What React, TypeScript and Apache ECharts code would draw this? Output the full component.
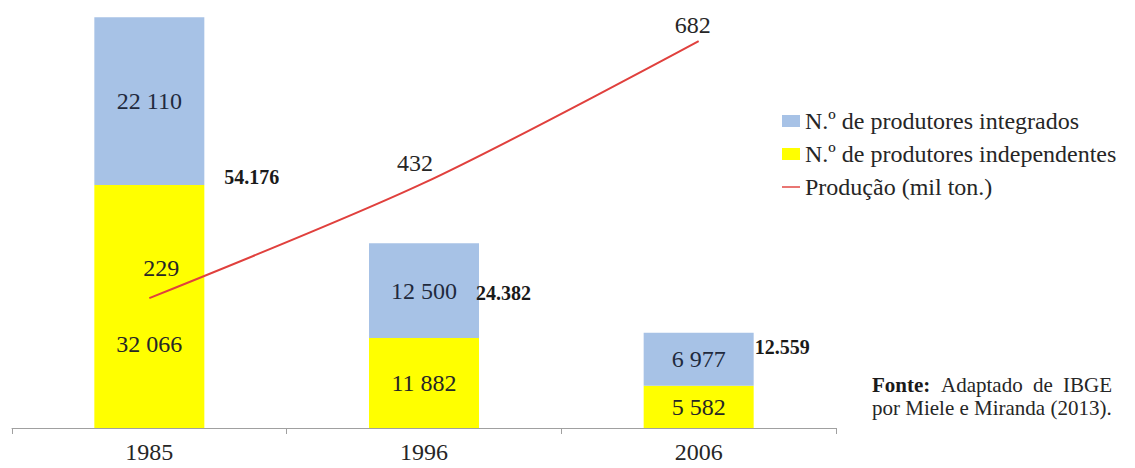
import React, { useEffect, useRef } from "react";
import * as echarts from "echarts";

const years = ["1985", "1996", "2006"];
const integrados = [22110, 12500, 6977];
const independentes = [32066, 11882, 5582];
const totals = [54176, 24382, 12559];
const producao = [229, 432, 682];

const seriesNames = [
  "N.º de produtores integrados",
  "N.º de produtores independentes",
  "Produção (mil ton.)",
];

const fmtSpace = (v: number) => String(v).replace(/\B(?=(\d{3})+(?!\d))/g, " ");
const fmtDot = (v: number) => String(v).replace(/\B(?=(\d{3})+(?!\d))/g, ".");

// label placement tweaks (style only, pixels)
const indepOffsets = [[0, 38], [0, 0], [0, 0]];
const integOffsets = [[0, 0], [0, 0], [0, 0]];
const totalOffsets = [[15, -46], [-8, -43], [-4, -33]];
const lineOffsets = [[12, -30], [-9, -20], [-6, -16]];

const SERIF = "Liberation Serif";
const BLUE = "#A7C2E6";
const YELLOW = "#FFFF00";
const RED = "#E0403D";
const TXT = "#262626";

// segment label records built from the data arrays: [category, mid value, shown value, kind]
const segLabels: number[][] = [];
years.forEach((_, i) => {
  segLabels.push([i, independentes[i] / 2, independentes[i], 0]);
  segLabels.push([i, independentes[i] + integrados[i] / 2, integrados[i], 1]);
});
const lineLabels = producao.map((v, i) => [i, v]);

export default function App() {
  const ref = useRef<HTMLDivElement>(null);
  useEffect(() => {
    if (!ref.current) return;
    const chart = echarts.init(ref.current, undefined, { renderer: "svg" });
    const option: any = {
      animation: false,
      backgroundColor: "#ffffff",
      textStyle: { fontFamily: SERIF },
      grid: { left: 12, right: 299, top: 11, bottom: 40, containLabel: false },
      legend: {
        orient: "vertical",
        left: 777,
        top: 104,
        itemWidth: 18,
        itemHeight: 12,
        itemGap: 9,
        selectedMode: false,
        textStyle: {
          fontFamily: SERIF,
          fontSize: 24,
          color: TXT,
        },
        data: [
          { name: seriesNames[0], icon: "rect" },
          { name: seriesNames[1], icon: "rect" },
          { name: seriesNames[2], icon: "path://M0,0H30V2.4H0Z" },
        ],
      },
      xAxis: {
        type: "category",
        data: years,
        boundaryGap: true,
        axisLine: { show: true, lineStyle: { color: "#A0A0A0", width: 1 } },
        axisTick: { show: true, length: 6, lineStyle: { color: "#A0A0A0" } },
        axisLabel: { fontFamily: SERIF, fontSize: 24, color: TXT, margin: 12 },
        splitLine: { show: false },
      },
      yAxis: [
        { type: "value", min: 0, max: 55000, show: false, splitLine: { show: false } },
        { type: "value", min: 0, max: 735, show: false, splitLine: { show: false } },
      ],
      series: [
        {
          name: seriesNames[1],
          type: "bar",
          stack: "prod",
          barWidth: 110,
          barGap: "-100%",
          itemStyle: { color: YELLOW },
          data: independentes,
        },
        {
          name: seriesNames[0],
          type: "bar",
          stack: "prod",
          barWidth: 110,
          barGap: "-100%",
          itemStyle: { color: BLUE },
          data: integrados,
        },
        {
          name: "total",
          type: "bar",
          barWidth: 110,
          barGap: "-100%",
          silent: true,
          itemStyle: { color: "rgba(0,0,0,0)" },
          label: {
            show: true,
            position: "right",
            distance: 5,
            fontFamily: SERIF,
            fontSize: 20,
            fontWeight: "bold",
            color: "#1a1a1a",
            formatter: (p: any) => fmtDot(p.value),
          },
          data: totals.map((v, i) => ({ value: v, label: { offset: totalOffsets[i] } })),
        },
        {
          name: seriesNames[2],
          type: "line",
          yAxisIndex: 1,
          smooth: 0.3,
          symbol: "none",
          itemStyle: { color: RED },
          lineStyle: { color: RED, width: 2 },
          data: producao,
        },
        {
          name: "segLabels",
          type: "custom",
          silent: true,
          z: 10,
          data: segLabels,
          renderItem: (params: any, api: any) => {
            const cat = api.value(0);
            const kind = api.value(3);
            const pt = api.coord([cat, api.value(1)]);
            const off = kind === 0 ? indepOffsets[cat] : integOffsets[cat];
            return {
              type: "text",
              x: pt[0] + off[0],
              y: pt[1] + off[1],
              style: {
                text: fmtSpace(api.value(2)),
                font: `24px ${SERIF}`,
                fill: kind === 0 ? TXT : "#1f2a3d",
                textAlign: "center",
                textVerticalAlign: "middle",
              },
            };
          },
        },
        {
          name: "lineLabels",
          type: "custom",
          yAxisIndex: 1,
          silent: true,
          z: 10,
          data: lineLabels,
          renderItem: (params: any, api: any) => {
            const cat = api.value(0);
            const pt = api.coord([cat, api.value(1)]);
            const off = lineOffsets[cat];
            return {
              type: "text",
              x: pt[0] + off[0],
              y: pt[1] + off[1],
              style: {
                text: String(api.value(1)),
                font: `24px ${SERIF}`,
                fill: TXT,
                textAlign: "center",
                textVerticalAlign: "middle",
              },
            };
          },
        },
      ],
      graphic: [
        {
          type: "text",
          x: 872,
          y: 385,
          style: { text: "Fonte:", font: `bold 21px ${SERIF}`, fill: "#1a1a1a", textVerticalAlign: "middle" },
        },
        {
          type: "text",
          x: 941,
          y: 385,
          style: { text: "Adaptado", font: `21px ${SERIF}`, fill: TXT, textVerticalAlign: "middle" },
        },
        {
          type: "text",
          x: 1033,
          y: 385,
          style: { text: "de", font: `21px ${SERIF}`, fill: TXT, textVerticalAlign: "middle" },
        },
        {
          type: "text",
          x: 1112,
          y: 385,
          style: { text: "IBGE", font: `21px ${SERIF}`, fill: TXT, textAlign: "right", textVerticalAlign: "middle" },
        },
        {
          type: "text",
          x: 872,
          y: 408,
          style: { text: "por Miele e Miranda (2013).", font: `21px ${SERIF}`, fill: TXT, textVerticalAlign: "middle" },
        },
      ],
    };
    chart.setOption(option);
    return () => chart.dispose();
  }, []);
  return (
    <div
      ref={ref}
      style={{ position: "fixed", left: 0, top: 0, width: 1135, height: 468, background: "#fff" }}
    />
  );
}
